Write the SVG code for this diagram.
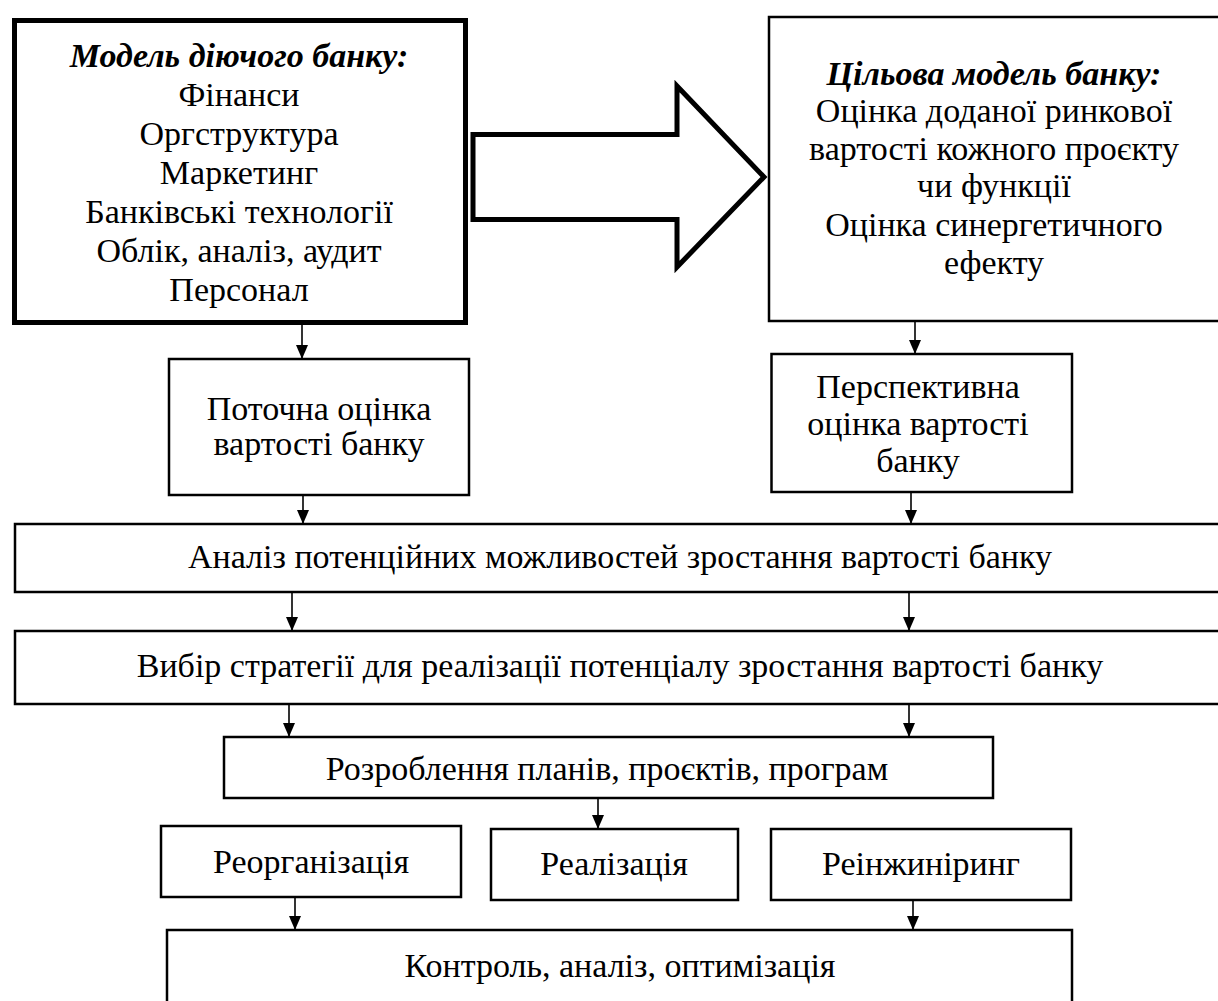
<svg xmlns="http://www.w3.org/2000/svg" width="1218" height="1001" viewBox="0 0 1218 1001">
<style>
.box{fill:#fff;stroke:#000;stroke-width:2.5}
.t{font-family:"Liberation Serif","Times New Roman",serif;font-size:34px;fill:#000;text-anchor:middle}
.ti{font-weight:bold;font-style:italic}
.c{stroke:#000;stroke-width:1.6;fill:none;marker-end:url(#ah)}
</style>
<defs>
<marker id="ah" markerUnits="userSpaceOnUse" viewBox="0 0 14 12" refX="14" refY="6" markerWidth="14" markerHeight="12" orient="auto">
<path d="M0,0 L14,6 L0,12 z" fill="#000"/>
</marker>
</defs>
<rect width="1218" height="1001" fill="#fff"/>

<g id="current-model">
<rect x="14.5" y="20.5" width="451" height="302" fill="#fff" stroke="#000" stroke-width="5"/>
<text class="t ti" x="239" y="67">Модель діючого банку:</text>
<text class="t" x="239" y="106">Фінанси</text>
<text class="t" x="239" y="145">Оргструктура</text>
<text class="t" x="239" y="184">Маркетинг</text>
<text class="t" x="239" y="223">Банківські технології</text>
<text class="t" x="239" y="262">Облік, аналіз, аудит</text>
<text class="t" x="239" y="301">Персонал</text>
</g>

<g id="big-arrow">
<polygon points="473,134.5 677,134.5 677,86 764,177 677,267 677,219.5 473,219.5" fill="#fff" stroke="#000" stroke-width="5" stroke-linejoin="miter"/>
</g>

<g id="target-model">
<rect class="box" x="769" y="17" width="470" height="304"/>
<text class="t ti" x="994" y="85">Цільова модель банку:</text>
<text class="t" x="994" y="122">Оцінка доданої ринкової</text>
<text class="t" x="994" y="160">вартості кожного проєкту</text>
<text class="t" x="994" y="197">чи функції</text>
<text class="t" x="994" y="236">Оцінка синергетичного</text>
<text class="t" x="994" y="274">ефекту</text>
</g>

<g id="current-value">
<rect class="box" x="169" y="359" width="300" height="136"/>
<text class="t" x="319" y="420">Поточна оцінка</text>
<text class="t" x="319" y="455">вартості банку</text>
</g>

<g id="perspective-value">
<rect class="box" x="771.5" y="354" width="300.5" height="138"/>
<text class="t" x="918" y="398">Перспективна</text>
<text class="t" x="918" y="435">оцінка вартості</text>
<text class="t" x="918" y="472">банку</text>
</g>

<g id="analysis">
<rect class="box" x="15" y="524" width="1215" height="68"/>
<text class="t" x="620" y="568">Аналіз потенційних можливостей зростання вартості банку</text>
</g>

<g id="strategy">
<rect class="box" x="15" y="631" width="1215" height="73"/>
<text class="t" x="620" y="677">Вибір стратегії для реалізації потенціалу зростання вартості банку</text>
</g>

<g id="plans">
<rect class="box" x="224" y="737" width="769" height="61"/>
<text class="t" x="607" y="780">Розроблення планів, проєктів, програм</text>
</g>

<g id="reorganization">
<rect class="box" x="161" y="826" width="300" height="71"/>
<text class="t" x="311" y="873">Реорганізація</text>
</g>

<g id="realization">
<rect class="box" x="491" y="829" width="247" height="71"/>
<text class="t" x="614" y="875">Реалізація</text>
</g>

<g id="reengineering">
<rect class="box" x="771" y="829" width="300" height="71"/>
<text class="t" x="921" y="875">Реінжиніринг</text>
</g>

<g id="control">
<rect class="box" x="167" y="930" width="905" height="100"/>
<text class="t" x="620" y="977">Контроль, аналіз, оптимізація</text>
</g>

<g id="connectors">
<line class="c" x1="302" y1="325" x2="302" y2="359"/>
<line class="c" x1="915" y1="322" x2="915" y2="354"/>
<line class="c" x1="303" y1="496" x2="303" y2="524"/>
<line class="c" x1="911" y1="493" x2="911" y2="524"/>
<line class="c" x1="292" y1="593" x2="292" y2="631"/>
<line class="c" x1="909" y1="593" x2="909" y2="631"/>
<line class="c" x1="289" y1="705" x2="289" y2="737"/>
<line class="c" x1="909" y1="705" x2="909" y2="737"/>
<line class="c" x1="598" y1="799" x2="598" y2="829"/>
<line class="c" x1="295" y1="898" x2="295" y2="930"/>
<line class="c" x1="913" y1="901" x2="913" y2="930"/>
</g>
</svg>
